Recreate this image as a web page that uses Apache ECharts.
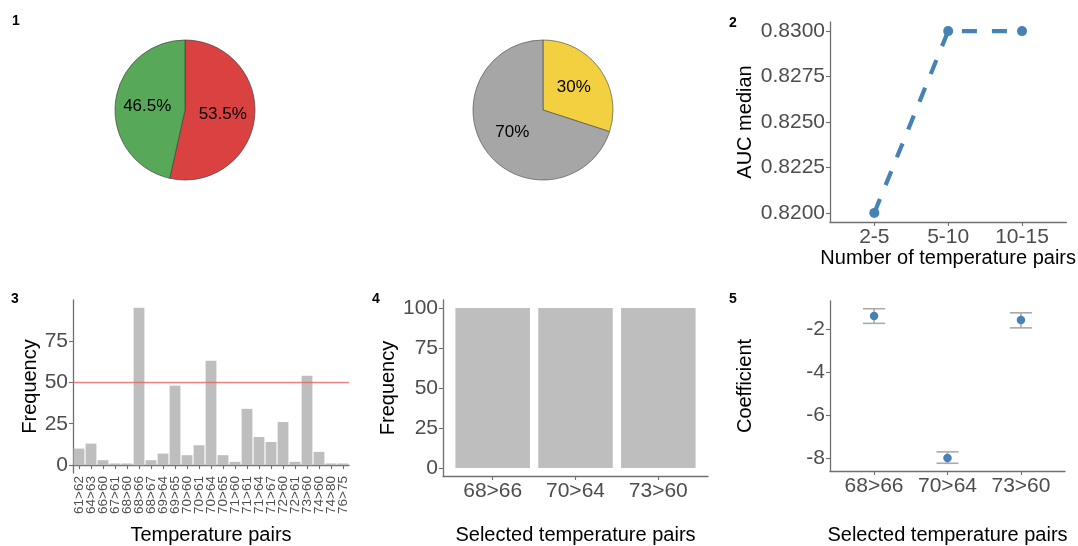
<!DOCTYPE html>
<html>
<head>
<meta charset="utf-8">
<script src="https://cdn.jsdelivr.net/npm/echarts@6/dist/echarts.min.js"></script>
<style>
html,body{margin:0;padding:0;background:#fff;}
#chart{width:1078px;height:546px;}
</style>
</head>
<body>
<div id="chart"></div>
<script>
// ---------- data ----------
const pie1Names = ['A', 'B'];
const pie1Values = [53.5, 46.5];
const pie2Names = ['Selected', 'Other'];
const pie2Values = [30, 70];

const aucCategories = ['2-5', '5-10', '10-15'];
const aucValues = [0.8200, 0.8300, 0.8300];
const aucTicks = [0.8200, 0.8225, 0.8250, 0.8275, 0.8300];

const tempPairs = ['61>62','64>63','66>60','67>61','68>60','68>66','68>67','69>64','69>65','70>60','70>61','70>64','70>65','71>60','71>61','71>64','71>67','72>60','72>61','73>60','74>60','74>80','76>75'];
const pairFreq = [10, 13, 3, 1, 1, 95, 3, 7, 48, 6, 12, 63, 6, 2, 34, 17, 14, 26, 2, 54, 8, 1, 1];
const freqTicks = [0, 25, 50, 75];
const freqThreshold = 50;

const selectedPairs = ['68>66', '70>64', '73>60'];
const selectedFreq = [100, 100, 100];
const selFreqTicks = [0, 25, 50, 75, 100];

const coefEstimate = [-1.40, -8.00, -1.58];
const coefLower = [-1.74, -8.25, -1.95];
const coefUpper = [-1.06, -7.72, -1.25];
const coefTicks = [-8, -6, -4, -2];

// ---------- helpers ----------
const AXIS_COLOR = '#6f6f6f';
const LABEL_COLOR = '#4d4d4d';
const FONT = '"Liberation Sans", Arial, sans-serif';

function idx(arr) { return arr.map((_, i) => i); }

function axis(o) {
  return {
    type: 'value',
    gridIndex: o.grid,
    min: o.min,
    max: o.max,
    name: o.name,
    nameLocation: 'middle',
    nameGap: o.nameGap,
    nameTextStyle: { fontSize: 20, color: '#000', fontFamily: FONT },
    axisLine: { show: true, onZero: false, lineStyle: { color: AXIS_COLOR, width: 1.3 } },
    axisTick: { show: true, length: 4, customValues: o.ticks, lineStyle: { color: AXIS_COLOR, width: 1.1 } },
    axisLabel: {
      customValues: o.ticks,
      hideOverlap: false,
      fontSize: o.fontSize || 21,
      color: LABEL_COLOR,
      fontFamily: FONT,
      margin: o.margin || 5,
      rotate: o.rotate || 0,
      formatter: o.formatter
    },
    splitLine: { show: false }
  };
}

const panelLabel = (x, y, t) => ({
  type: 'text', x: x, y: y,
  style: { text: t, fontSize: 14, fontWeight: 'bold', fill: '#000', font: 'bold 14px ' + FONT, textAlign: 'center', textVerticalAlign: 'middle' }
});

const chart = echarts.init(document.getElementById('chart'), null, { renderer: 'canvas' });

const option = {
  animation: false,
  backgroundColor: '#fff',
  textStyle: { fontFamily: FONT },
  graphic: [
    panelLabel(16, 21, '1'),
    panelLabel(733, 23, '2'),
    panelLabel(15, 299, '3'),
    panelLabel(376, 299, '4'),
    panelLabel(733, 299, '5')
  ],
  grid: [
    { left: 830, top: 22, width: 237, height: 200 },   // panel 2
    { left: 73, top: 300, width: 276, height: 176 },   // panel 3
    { left: 443, top: 300, width: 265, height: 176 },  // panel 4
    { left: 830, top: 301, width: 235, height: 170 }   // panel 5
  ],
  xAxis: [
    axis({ grid: 0, min: -0.6, max: 2.6, ticks: idx(aucCategories), formatter: v => aucCategories[Math.round(v)],
           name: 'Number of temperature pairs', nameGap: 23, margin: 5 }),
    {
      type: 'category', gridIndex: 1, data: tempPairs, boundaryGap: true,
      name: 'Temperature pairs', nameLocation: 'middle', nameGap: 52,
      nameTextStyle: { fontSize: 20, color: '#000', fontFamily: FONT },
      axisLine: { show: true, lineStyle: { color: AXIS_COLOR, width: 1.3 } },
      axisTick: { show: true, length: 4, alignWithLabel: true, interval: 0, lineStyle: { color: AXIS_COLOR, width: 1.1 } },
      axisLabel: { interval: 0, rotate: 90, fontSize: 13.5, margin: 3, color: LABEL_COLOR, fontFamily: FONT, hideOverlap: false },
      splitLine: { show: false }
    },
    axis({ grid: 2, min: -0.6, max: 2.6, ticks: idx(selectedPairs), formatter: v => selectedPairs[Math.round(v)],
           name: 'Selected temperature pairs', nameGap: 49, margin: 5 }),
    axis({ grid: 3, min: -0.6, max: 2.6, ticks: idx(selectedPairs), formatter: v => selectedPairs[Math.round(v)],
           name: 'Selected temperature pairs', nameGap: 54, margin: 5 })
  ],
  yAxis: [
    axis({ grid: 0, min: 0.8195, max: 0.8305, ticks: aucTicks, formatter: v => v.toFixed(4),
           name: 'AUC median', nameGap: 75 }),
    axis({ grid: 1, min: -4.75, max: 99.75, ticks: freqTicks, formatter: v => String(v),
           name: 'Frequency', nameGap: 31 }),
    axis({ grid: 2, min: -5, max: 105, ticks: selFreqTicks, formatter: v => String(v),
           name: 'Frequency', nameGap: 45 }),
    axis({ grid: 3, min: -8.61, max: -0.70, ticks: coefTicks, formatter: v => String(v),
           name: 'Coefficient', nameGap: 75 })
  ],
  series: [
    // Panel 1 pies
    {
      type: 'pie', center: [185, 110], radius: 70, startAngle: 90, clockwise: true,
      silent: true,
      itemStyle: { borderColor: '#444', borderWidth: 0.7 },
      label: { show: true, position: 'inside', formatter: '{c}%', fontSize: 17, color: '#000' },
      labelLine: { show: false },
      data: pie1Names.map((n, i) => ({ name: n, value: pie1Values[i], itemStyle: { color: i === 0 ? '#da4141' : '#58a85a' } }))
    },
    {
      type: 'pie', center: [543, 110], radius: 70, startAngle: 90, clockwise: true,
      silent: true,
      itemStyle: { borderColor: '#555', borderWidth: 0.7 },
      label: { show: true, position: 'inside', formatter: '{c}%', fontSize: 17, color: '#000' },
      labelLine: { show: false },
      data: pie2Names.map((n, i) => ({ name: n, value: pie2Values[i], itemStyle: { color: i === 0 ? '#f3d040' : '#a6a6a6' } }))
    },
    // Panel 2 line
    {
      type: 'line', xAxisIndex: 0, yAxisIndex: 0,
      data: aucValues.map((v, i) => [i, v]),
      symbol: 'circle', symbolSize: 10,
      itemStyle: { color: '#4682b4', opacity: 1 },
      lineStyle: { color: '#4682b4', width: 4.2, type: [15, 15] }
    },
    // Panel 3 bars
    {
      type: 'bar', xAxisIndex: 1, yAxisIndex: 1,
      data: pairFreq,
      barWidth: '90%',
      itemStyle: { color: '#bebebe' },
      markLine: {
        silent: true, symbol: 'none',
        label: { show: false },
        lineStyle: { color: 'rgba(238,90,90,0.75)', width: 1.4, type: 'solid' },
        data: [{ yAxis: freqThreshold }]
      }
    },
    // Panel 4 bars
    {
      type: 'bar', xAxisIndex: 2, yAxisIndex: 2,
      data: selectedFreq.map((v, i) => [i, v]),
      barWidth: 74.5,
      itemStyle: { color: '#bebebe' }
    },
    // Panel 5 error bars
    {
      type: 'custom', xAxisIndex: 3, yAxisIndex: 3,
      data: coefLower.map((lo, i) => [i, lo, coefUpper[i]]),
      renderItem: function (params, api) {
        const x = api.value(0), lo = api.value(1), hi = api.value(2);
        const pLo = api.coord([x, lo]);
        const pHi = api.coord([x, hi]);
        const half = api.size([0.15, 0])[0];
        const style = { stroke: '#aaaaaa', lineWidth: 1.6 };
        return {
          type: 'group',
          children: [
            { type: 'line', shape: { x1: pLo[0], y1: pLo[1], x2: pHi[0], y2: pHi[1] }, style: style },
            { type: 'line', shape: { x1: pLo[0] - half, y1: pLo[1], x2: pLo[0] + half, y2: pLo[1] }, style: style },
            { type: 'line', shape: { x1: pHi[0] - half, y1: pHi[1], x2: pHi[0] + half, y2: pHi[1] }, style: style }
          ]
        };
      },
      z: 2
    },
    {
      type: 'scatter', xAxisIndex: 3, yAxisIndex: 3,
      data: coefEstimate.map((v, i) => [i, v]),
      symbol: 'circle', symbolSize: 8.5,
      itemStyle: { color: '#4682b4', opacity: 1 },
      z: 3
    }
  ]
};

chart.setOption(option);
</script>
</body>
</html>
